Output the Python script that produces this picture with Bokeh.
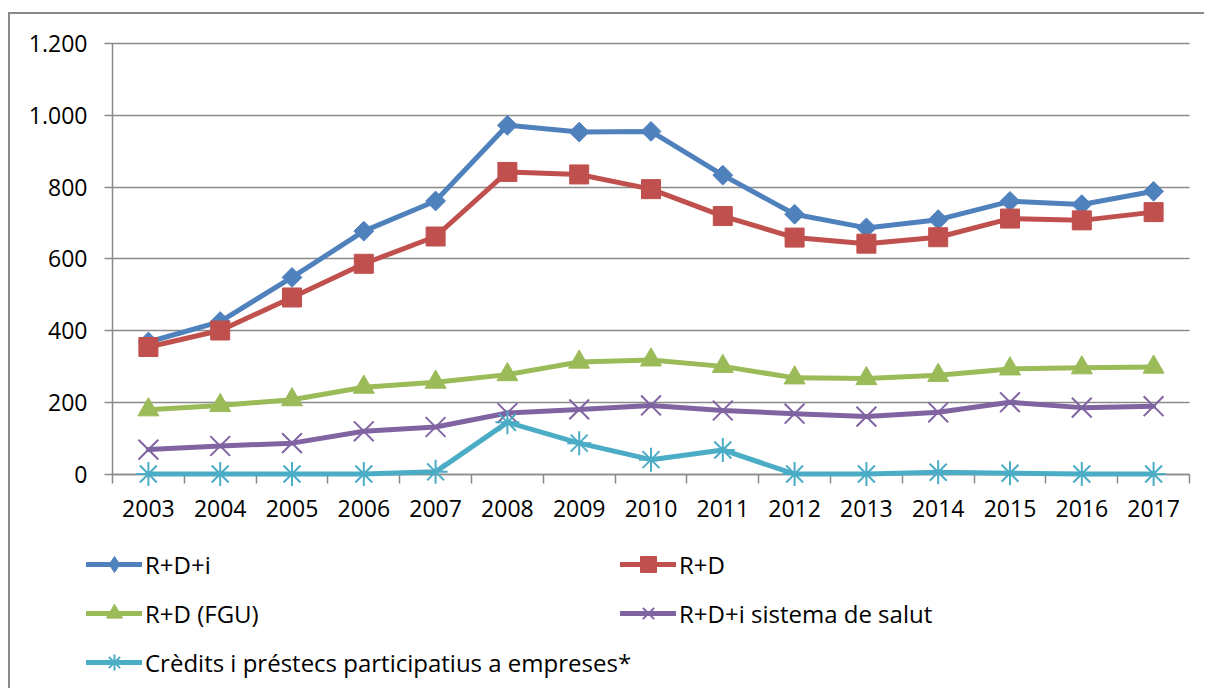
import math
from bokeh.plotting import figure
from bokeh.models import FixedTicker, Legend, LegendItem, Range1d
from bokeh.embed import file_html
from bokeh.resources import INLINE

# ---- data ----
years = [2003, 2004, 2005, 2006, 2007, 2008, 2009, 2010, 2011, 2012, 2013, 2014, 2015, 2016, 2017]
rdi = [368, 425, 548, 677, 761, 972, 953, 955, 833, 724, 686, 709, 760, 751, 788]
rd = [354, 400, 492, 586, 662, 842, 835, 794, 719, 659, 642, 660, 712, 707, 730]
fgu = [179, 191, 207, 242, 256, 277, 312, 318, 300, 268, 266, 275, 293, 296, 298]
salut = [68, 78, 86, 119, 131, 170, 180, 191, 177, 168, 160, 172, 200, 185, 189]
credits = [0, 0, 0, 0, 6, 144, 86, 40, 67, 0, 0, 5, 2, 0, 0]
y_ticks = [0, 200, 400, 600, 800, 1000, 1200]

names = ["R+D+i", "R+D", "R+D (FGU)", "R+D+i sistema de salut",
         "Crèdits i préstecs participatius a empreses*"]
colors = ["#4F81BD", "#C0504D", "#9BBB59", "#8064A2", "#4BACC6"]

FONT = "Open Sans"
GRAY = "#8a8a8a"

# ---- layout (canvas pixels) ----
CW, CH = 1196, 676
X_LEFT_PX, X_RIGHT_PX = 102, 1179     # plot area left / right
Y_ZERO_PX, Y_TOP_PX = 459.5, 29       # value 0 / top value

x_lo, x_hi = years[0] - 0.5, years[-1] + 0.5
y_lo, y_hi = y_ticks[0], y_ticks[-1]
sx = (X_RIGHT_PX - X_LEFT_PX) / (x_hi - x_lo)
sy = (Y_ZERO_PX - Y_TOP_PX) / (y_hi - y_lo)
x_range = Range1d(x_lo - X_LEFT_PX / sx, x_hi + (CW - X_RIGHT_PX) / sx)
y_range = Range1d(y_lo - (CH - Y_ZERO_PX) / sy, y_hi + Y_TOP_PX / sy)

p = figure(width=CW, height=CH, x_range=x_range, y_range=y_range,
           output_backend="svg", toolbar_location=None,
           min_border=0, min_border_left=0, min_border_right=0,
           min_border_top=0, min_border_bottom=0)
p.styles = {"border-left": "2px solid #8a8a8a", "border-top": "2px solid #8a8a8a",
            "margin-top": "12px", "margin-left": "8px"}
p.outline_line_color = None
p.background_fill_color = "white"
p.border_fill_color = "white"
p.xgrid.visible = False
p.ygrid.visible = False

# x axis (category boundaries as ticks)
xt = FixedTicker(ticks=years, minor_ticks=[y - 0.5 for y in years] + [years[-1] + 0.5])
xa = p.xaxis[0]
xa.ticker = xt
xa.fixed_location = y_lo
xa.bounds = (x_lo, x_hi)
xa.major_label_overrides = {y: str(y) for y in years}
xa.major_tick_line_color = None
xa.major_tick_out = 0
xa.major_tick_in = 0
xa.minor_tick_out = 9
xa.minor_tick_in = 0
xa.minor_tick_line_color = GRAY
xa.minor_tick_line_width = 1.5
xa.axis_line_color = GRAY
xa.axis_line_width = 1.5
xa.major_label_standoff = 17
xa.major_label_text_font = FONT
xa.major_label_text_font_size = "23px"
xa.major_label_text_color = "black"

# y axis; its inward ticks act as the horizontal gridlines
yt = FixedTicker(ticks=y_ticks)
ya = p.yaxis[0]
ya.ticker = yt
ya.fixed_location = x_lo
ya.bounds = (y_lo, y_hi)
ya.major_label_overrides = {t: f"{t:,}".replace(",", ".") for t in y_ticks}
ya.major_tick_out = 8
ya.major_tick_in = X_RIGHT_PX - X_LEFT_PX
ya.major_tick_line_color = GRAY
ya.major_tick_line_width = 1.4
ya.minor_tick_line_color = None
ya.axis_line_color = GRAY
ya.axis_line_width = 1.5
ya.major_label_standoff = 17
ya.major_label_text_font = FONT
ya.major_label_text_font_size = "23px"
ya.major_label_text_color = "black"

series = [rdi, rd, fgu, salut, credits]
# (plot marker, size, angle, line width, legend marker)
markers = [("square", 14, math.pi / 4, 1, "diamond"), ("square", 19, 0, 1, "square"),
           ("triangle", 21, 0, 1, "triangle"), ("x", 28, 0, 2, "x"),
           ("asterisk", 24, 0, 2, "asterisk")]

items = []
for vals, name, c, (mk, sz, ang, lw, lmk) in zip(series, names, colors, markers):
    rl = p.line(years, vals, line_width=5, line_color=c, line_join="round",
                line_cap="round", level="overlay")
    if lmk != mk:
        # diamond drawn under the rotated square: gives the legend its diamond swatch
        rk = p.scatter(years, vals, marker=lmk, size=sz, fill_color=c, line_color=c,
                       line_width=lw, level="overlay")
    rs = p.scatter(years, vals, marker=mk, size=sz, angle=ang,
                   fill_color=c, line_color=c, line_width=lw, level="overlay")
    rends = [rl, rs] if lmk == mk else [rl, rk]
    items.append(LegendItem(label=name, renderers=rends))


def make_legend(its, loc):
    leg = Legend(items=its, location=loc, orientation="vertical")
    leg.border_line_color = None
    leg.background_fill_alpha = 0
    leg.padding = 0
    leg.margin = 0
    leg.spacing = 9
    leg.glyph_height = 40
    leg.glyph_width = 56
    leg.label_height = 40
    leg.label_standoff = 3
    leg.label_text_font = FONT
    leg.label_text_font_size = "24px"
    leg.label_text_color = "black"
    return leg


p.add_layout(make_legend([items[0], items[2], items[4]], (76, CH - 668)))
p.add_layout(make_legend([items[1], items[3]], (610, CH - 619)))

open("out.html", "w").write(file_html(p, INLINE))
